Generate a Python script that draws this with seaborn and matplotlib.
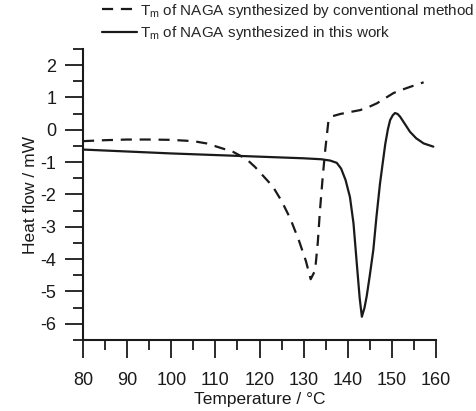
import matplotlib
matplotlib.use("Agg")
import matplotlib.pyplot as plt
import seaborn as sns
import pandas as pd
from matplotlib.ticker import MultipleLocator

# --- data ---
conv_T = [80, 85, 90, 95, 100, 105, 108, 111, 114, 117, 119, 121, 123, 125, 127,
          129, 130.5, 131.6, 132.6, 133.2, 133.7, 134.3, 134.9, 135.6, 136.5, 138.3,
          140.5, 142.8, 144.5, 146.6, 148.5, 150.4, 152.5, 155, 157.2]
conv_y = [-0.35, -0.32, -0.3, -0.3, -0.31, -0.35, -0.42, -0.55, -0.68, -0.9, -1.15,
          -1.45, -1.75, -2.2, -2.75, -3.45, -4.05, -4.62, -4.35, -3.5, -2.5, -1.5,
          -0.62, 0.25, 0.42, 0.49, 0.55, 0.61, 0.69, 0.82, 0.98, 1.14, 1.25, 1.37, 1.47]

sol_T = [80, 90, 100, 110, 120, 130, 134, 136, 137.5, 138.5, 139.5, 140.5, 141.3,
         142.1, 142.7, 143.2, 143.8, 144.3, 145, 145.8, 146.5, 147.3, 148, 148.5,
         149.1, 149.6, 150.2, 150.7, 151.3, 151.9, 153, 154.1, 155.5, 157.2, 159.4]
sol_y = [-0.61, -0.67, -0.73, -0.78, -0.83, -0.88, -0.91, -0.95, -1.02, -1.2, -1.55,
         -2.08, -2.89, -4.22, -5.2, -5.78, -5.5, -5.14, -4.5, -3.71, -2.7, -1.67,
         -0.95, -0.44, 0.02, 0.3, 0.45, 0.52, 0.49, 0.4, 0.17, -0.06, -0.26, -0.42, -0.52]

label_conv = r"T$_\mathrm{m}$ of NAGA synthesized by conventional method"
label_sol = r"T$_\mathrm{m}$ of NAGA synthesized in this work"

x_ticks = [80, 90, 100, 110, 120, 130, 140, 150, 160]
y_ticks = [2, 1, 0, -1, -2, -3, -4, -5, -6]

df = pd.concat([
    pd.DataFrame({"T": conv_T, "H": conv_y, "series": label_conv}),
    pd.DataFrame({"T": sol_T, "H": sol_y, "series": label_sol}),
])

sns.set_style("ticks")
plt.rcParams["font.family"] = ["Liberation Sans", "DejaVu Sans"]
plt.rcParams["mathtext.fontset"] = "custom"
plt.rcParams["mathtext.rm"] = "Liberation Sans"
plt.rcParams["mathtext.it"] = "Liberation Sans:italic"
plt.rcParams["axes.unicode_minus"] = False

fig = plt.figure(figsize=(4.77, 4.11), dpi=100)
ax = fig.add_axes([83 / 477, (411 - 340) / 411, (436 - 83) / 477, (340 - 49) / 411])

sns.lineplot(data=df, x="T", y="H", hue="series", style="series",
             palette=["#1a1a1a", "#1a1a1a"],
             dashes={label_conv: (5, 3.5), label_sol: ""},
             linewidth=1.6, sort=False, estimator=None, ax=ax, legend=True)

ax.set_xlim(80, 160)
ax.set_ylim(-6.5, 2.5)
ax.set_xticks(x_ticks)
ax.set_yticks(y_ticks)
ax.xaxis.set_minor_locator(MultipleLocator(5))
ax.yaxis.set_minor_locator(MultipleLocator(0.5))
ax.tick_params(which="major", direction="out", length=13, width=1.3,
               labelsize=13, color="#1a1a1a", labelcolor="#1a1a1a")
ax.tick_params(axis="x", which="major", pad=10)
ax.tick_params(axis="y", which="major", pad=6)
ax.tick_params(which="minor", direction="out", length=7, width=1.3, color="#1a1a1a")
for s in ["left", "bottom"]:
    ax.spines[s].set_linewidth(1.5)
    ax.spines[s].set_color("#1a1a1a")
sns.despine(ax=ax)

ax.set_xlabel("Temperature / °C", fontsize=12.5, color="#1a1a1a", labelpad=2)
ax.set_ylabel("Heat flow / mW", fontsize=12.5, color="#1a1a1a", labelpad=2)

handles, labels = ax.get_legend_handles_labels()
ax.legend(handles, labels, loc="upper left", bbox_to_anchor=(100 / 477, 1.0),
          bbox_transform=fig.transFigure, frameon=False, fontsize=11,
          handlelength=2.3, handletextpad=0.2, labelspacing=0.3,
          borderpad=0.1, borderaxespad=0)

fig.savefig("out.png", dpi=100)
